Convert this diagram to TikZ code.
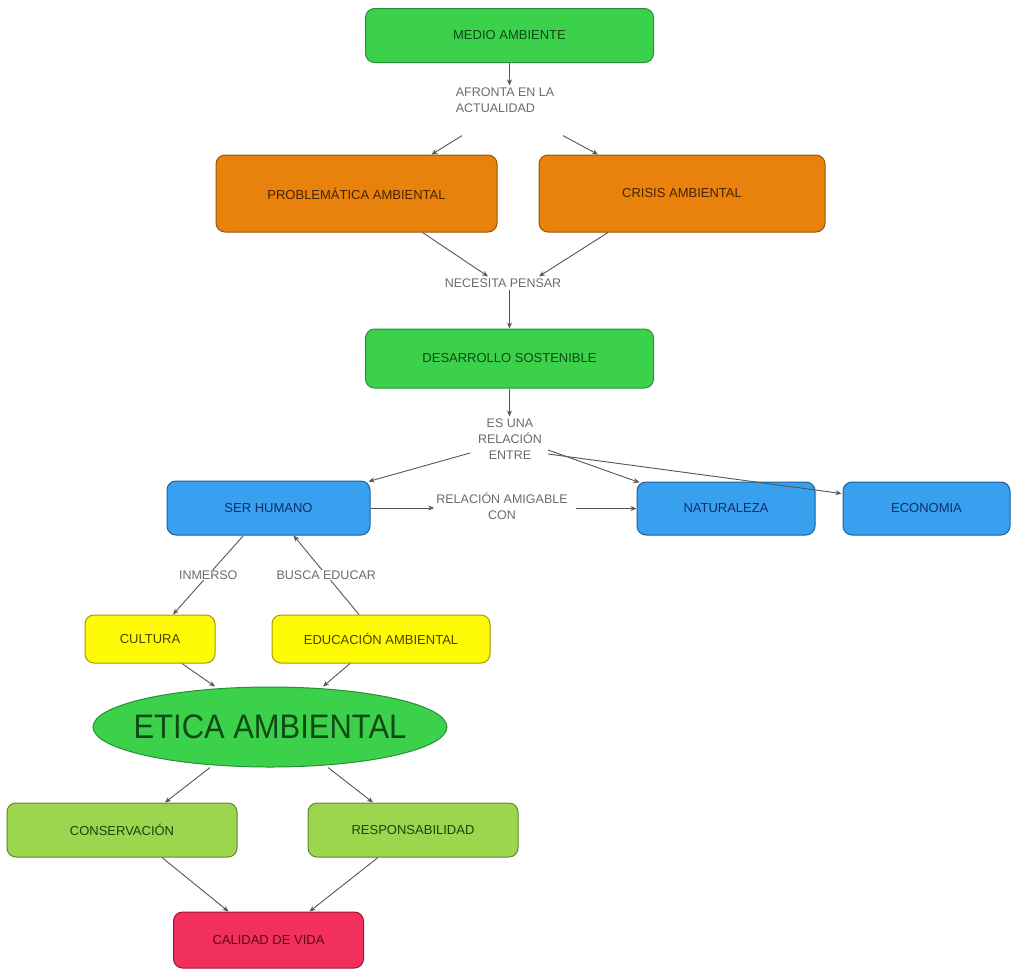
\documentclass[tikz,border=0pt]{standalone}
\usepackage{fontspec}
\setmainfont{Liberation Sans}
\usepackage{graphicx}
\usetikzlibrary{arrows.meta,shapes.geometric}
\definecolor{cgreen}{HTML}{3BD14B}
\definecolor{cgreenbd}{HTML}{2A8F35}
\definecolor{cgreentx}{HTML}{0F4A14}
\definecolor{corange}{HTML}{E8820C}
\definecolor{corangebd}{HTML}{9A5508}
\definecolor{corangetx}{HTML}{4A2200}
\definecolor{cblue}{HTML}{38A0EE}
\definecolor{cbluebd}{HTML}{1E5F99}
\definecolor{cbluetx}{HTML}{0E2F6A}
\definecolor{cyellow}{HTML}{FFFA05}
\definecolor{cyellowbd}{HTML}{A89A00}
\definecolor{cyellowtx}{HTML}{4A4400}
\definecolor{clgreen}{HTML}{9CD54E}
\definecolor{clgreenbd}{HTML}{5E8A2A}
\definecolor{clgreentx}{HTML}{1F4210}
\definecolor{cpink}{HTML}{F2305C}
\definecolor{cpinkbd}{HTML}{A01535}
\definecolor{cpinktx}{HTML}{5A0A1A}
\definecolor{labgray}{HTML}{6B6B6B}
\definecolor{lingray}{HTML}{555555}
\begin{document}
\begin{tikzpicture}[x=1pt,y=-1pt,
  box/.style={rectangle, rounded corners=9pt, line width=1pt, inner sep=0pt, align=center,
    font=\fontsize{13}{15}\selectfont},
  gbox/.style={box, fill=cgreen, draw=cgreenbd, text=cgreentx},
  obox/.style={box, fill=corange, draw=corangebd, text=corangetx},
  bbox/.style={box, fill=cblue, draw=cbluebd, text=cbluetx},
  ybox/.style={box, fill=cyellow, draw=cyellowbd, text=cyellowtx},
  lbox/.style={box, fill=clgreen, draw=clgreenbd, text=clgreentx},
  pbox/.style={box, fill=cpink, draw=cpinkbd, text=cpinktx},
  lbl/.style={text=labgray, inner sep=2pt, align=center, font=\fontsize{12.5}{16}\selectfont},
  arr/.style={draw=lingray, line width=0.9pt, -{Stealth[length=6pt,width=5pt]}}
]
\useasboundingbox (0,0) rectangle (1011,969);

% nodes
\node[gbox, minimum width=288, minimum height=54] (medio) at (509.5,35.5) {MEDIO AMBIENTE};
\node[lbl, align=left] (afronta) at (505,100) {AFRONTA EN LA\\ACTUALIDAD};
\node[obox, minimum width=281, minimum height=77] (prob) at (356.5,193.5) {PROBLEMÁTICA AMBIENTAL};
\node[obox, minimum width=286, minimum height=77] (crisis) at (682,193.5) {CRISIS AMBIENTAL};
\node[lbl] (necesita) at (503,283) {NECESITA PENSAR};
\node[gbox, minimum width=288, minimum height=59] (desarrollo) at (509.5,358.5) {DESARROLLO SOSTENIBLE};
\node[lbl] (esuna) at (510,439) {ES UNA\\RELACIÓN\\ENTRE};
\node[bbox, minimum width=203, minimum height=54] (ser) at (268.5,508) {SER HUMANO};
\node[lbl] (amigable) at (502,506) {RELACIÓN AMIGABLE\\CON};
\node[bbox, minimum width=178, minimum height=53] (natur) at (726,508.5) {NATURALEZA};
\node[bbox, minimum width=167, minimum height=53] (econ) at (926.5,508.5) {ECONOMIA};
\node[ybox, minimum width=130, minimum height=48] (cultura) at (150,639) {CULTURA};
\node[ybox, minimum width=218, minimum height=48] (educ) at (381,639) {EDUCACIÓN AMBIENTAL};
\node[ellipse, fill=cgreen, draw=cgreenbd, line width=1pt, inner sep=0pt,
  minimum width=354, minimum height=80,
  label={[text=cgreentx, inner sep=0pt, font=\fontsize{34}{38}\selectfont]center:{\scalebox{0.91}[1]{ETICA AMBIENTAL}}}]
  (etica) at (270,727) {};
\node[lbox, minimum width=230, minimum height=54] (conserv) at (122,830) {CONSERVACIÓN};
\node[lbox, minimum width=210, minimum height=54] (respons) at (413,830) {RESPONSABILIDAD};
\node[pbox, minimum width=190, minimum height=56] (calidad) at (268.5,940) {CALIDAD DE VIDA};

% connectors
\draw[arr] (medio.south) -- (medio.south |- afronta.north);
\draw[arr] ([shift={(-43,21)}]afronta.south) -- ([xshift=75pt]prob.north);
\draw[arr] ([shift={(58,21)}]afronta.south) -- ([xshift=-84pt]crisis.north);
\draw[arr] ([xshift=66pt]prob.south) -- ([shift={(-15,0)}]necesita.north);
\draw[arr] ([xshift=-74pt]crisis.south) -- ([shift={(36,0)}]necesita.north);
\draw[arr] (necesita.south -| desarrollo.north) -- (desarrollo.north);
\draw[arr] (desarrollo.south) -- (desarrollo.south |- esuna.north);
\draw[arr] ([shift={(-40,14)}]esuna.center) -- ([shift={(-2,1)}]ser.north east);
\draw[arr] ([shift={(38,11)}]esuna.center) -- ([shift={(3,1)}]natur.north west);
\draw[arr] ([shift={(38,15)}]esuna.center) -- ([shift={(-1,-15)}]econ.west);
\draw[arr] (ser.east) -- (ser.east -| amigable.west);
\draw[arr, shorten <=6pt] (amigable.east |- natur.west) -- (natur.west);
\draw[arr] ([xshift=-25pt]ser.south) -- node[lbl, fill=white, inner sep=1pt] {INMERSO} ([xshift=23pt]cultura.north);
\draw[arr] ([xshift=-22pt]educ.north) -- node[lbl, fill=white, inner sep=1pt] {BUSCA EDUCAR} ([xshift=25pt]ser.south);
\draw[arr] ([xshift=32pt]cultura.south) -- ([xshift=-55pt]etica.north);
\draw[arr] ([xshift=-31pt]educ.south) -- ([xshift=53pt]etica.north);
\draw[arr] ([xshift=-60pt]etica.south) -- ([xshift=43pt]conserv.north);
\draw[arr] ([xshift=58pt]etica.south) -- ([xshift=-40pt]respons.north);
\draw[arr] ([xshift=40pt]conserv.south) -- ([xshift=-40pt]calidad.north);
\draw[arr] ([xshift=-35pt]respons.south) -- ([xshift=41pt]calidad.north);
\end{tikzpicture}
\end{document}
